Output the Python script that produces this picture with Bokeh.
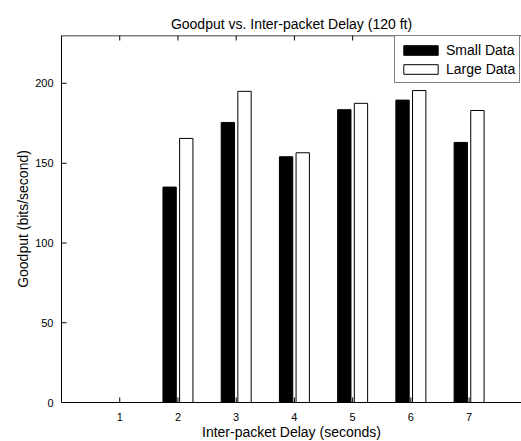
from bokeh.plotting import figure
from bokeh.models import FixedTicker, Range1d, Legend, LegendItem, ColumnDataSource, Span
from bokeh.transform import dodge
from bokeh.embed import file_html
from bokeh.resources import INLINE

delays = [1, 2, 3, 4, 5, 6, 7]
small_data = [0, 135, 175.5, 154, 183.5, 189.5, 163]
large_data = [0, 165.5, 195, 156.5, 187.5, 195.5, 183]
y_ticks = [0, 50, 100, 150, 200]
series_names = ["Small Data", "Large Data"]
Y_MAX = 230
X_MAX = 7.9

FONT = "Liberation Sans"
FS = "14px"
TFS = "11px"
FRAME_W, FRAME_H = 460, 367

src = ColumnDataSource(dict(x=delays, small=small_data, large=large_data))

p = figure(frame_width=FRAME_W, frame_height=FRAME_H, output_backend="svg", toolbar_location=None,
           x_range=Range1d(0, X_MAX), y_range=Range1d(0, Y_MAX),
           title="Goodput vs. Inter-packet Delay (120 ft)",
           min_border_left=61, min_border_right=0, min_border_top=35, min_border_bottom=0)
p.background_fill_color = "white"
p.border_fill_color = "white"
p.outline_line_color = None
p.xgrid.visible = False
p.ygrid.visible = False

p.title.text_font = FONT
p.title.text_font_size = FS
p.title.text_font_style = "normal"
p.title.align = "center"
p.title.text_color = "black"
p.title.standoff = 7

bw = 0.229
r1 = p.vbar(x=dodge("x", -0.143, range=p.x_range), top="small", width=bw, source=src,
            fill_color="black", line_color="black", line_width=1)
r2 = p.vbar(x=dodge("x", 0.143, range=p.x_range), top="large", width=bw, source=src,
            fill_color="white", line_color="black", line_width=1)

for ax in [p.xaxis[0], p.yaxis[0]]:
    ax.axis_line_color = "black"
    ax.major_tick_line_color = None
    ax.major_tick_in = 0
    ax.major_tick_out = 0
    ax.minor_tick_line_color = None
    ax.major_label_text_font = FONT
    ax.major_label_text_font_size = TFS
    ax.major_label_text_color = "black"
    ax.axis_label_text_font = FONT
    ax.axis_label_text_font_size = FS
    ax.axis_label_text_font_style = "normal"
    ax.axis_label_text_color = "black"

p.xaxis[0].ticker = FixedTicker(ticks=delays)
p.yaxis[0].ticker = FixedTicker(ticks=y_ticks)
p.xaxis[0].axis_label = "Inter-packet Delay (seconds)"
p.yaxis[0].axis_label = "Goodput (bits/second)"
p.xaxis[0].major_label_standoff = 10
p.xaxis[0].axis_label_standoff = 0
p.yaxis[0].major_label_standoff = 8
p.yaxis[0].axis_label_standoff = 1

# top edge of the box
p.add_layout(Span(location=Y_MAX, dimension="width", line_color="black",
                  line_width=1.5, level="overlay"))

# inward tick marks (5 px long, 1 px thick) as thin rectangles in data units
px_x = X_MAX / FRAME_W
px_y = Y_MAX / FRAME_H
n = len(delays)
p.vbar(x=delays, bottom=[Y_MAX - 5 * px_y] * n, top=[Y_MAX] * n, width=px_x,
       fill_color="black", line_color=None)
p.vbar(x=delays, bottom=[0] * n, top=[5 * px_y] * n, width=px_x,
       fill_color="black", line_color=None)
p.hbar(y=y_ticks, left=[0] * len(y_ticks), right=[5 * px_x] * len(y_ticks), height=px_y,
       fill_color="black", line_color=None)

legend = Legend(items=[LegendItem(label=series_names[0], renderers=[r1]),
                       LegendItem(label=series_names[1], renderers=[r2])],
                location=(333, FRAME_H - 2 - 46), orientation="vertical")
legend.label_text_font = FONT
legend.label_text_font_size = FS
legend.label_text_color = "black"
legend.glyph_width = 43
legend.glyph_height = 12
legend.label_standoff = 4
legend.label_height = 19
legend.spacing = 0
legend.padding = 4
legend.margin = 0
legend.border_line_color = "black"
legend.border_line_width = 1
legend.background_fill_color = "white"
legend.background_fill_alpha = 1
p.add_layout(legend, "center")

open("out.html", "w").write(file_html(p, INLINE))
